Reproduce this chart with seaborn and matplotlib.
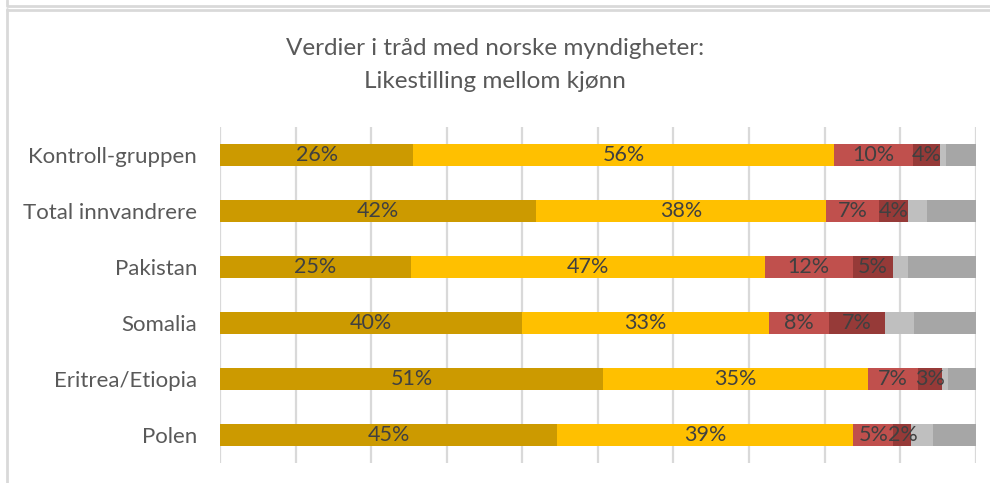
import matplotlib
matplotlib.use("Agg")
import matplotlib.pyplot as plt
import seaborn as sns
import numpy as np
import pandas as pd
from matplotlib.lines import Line2D

categories = ["Kontroll-gruppen", "Total innvandrere", "Pakistan", "Somalia", "Eritrea/Etiopia", "Polen"]
s1 = [25.6, 41.8, 25.3, 40.0, 50.7, 44.6]   # dark gold
s2 = [55.6, 38.4, 46.8, 32.6, 35.0, 39.2]   # yellow
s3 = [10.5, 7.0, 11.6, 8.0, 6.7, 5.3]       # red
s4 = [3.6, 3.9, 5.3, 7.4, 3.1, 2.4]         # dark red
s5 = [0.8, 2.5, 2.0, 3.8, 0.9, 2.8]         # light gray
s6 = [3.9, 6.4, 9.0, 8.2, 3.6, 5.7]         # gray
series = [s1, s2, s3, s4, s5, s6]
colors = ["#CC9A00", "#FFC000", "#C0504D", "#963A38", "#BFBFBF", "#A6A6A6"]
labeled = [True, True, True, True, False, False]
title = "Verdier i tråd med norske myndigheter:\nLikestilling mellom kjønn"

sns.set_theme(style="white")
plt.rcParams["font.family"] = ["Lato", "DejaVu Sans"]

fig = plt.figure(figsize=(9.9, 4.83), dpi=100)
ax = fig.add_axes([220/990, 1-463/483, 755.7/990, 336/483])

cum = np.cumsum(np.array(series), axis=0)
df = pd.DataFrame({"cat": categories})
for i in range(len(series)-1, -1, -1):
    df["v"] = cum[i]
    sns.barplot(data=df, x="v", y="cat", orient="h", color=colors[i],
                width=0.39, ax=ax, saturation=1, zorder=3, linewidth=0)

for i, s in enumerate(series):
    if not labeled[i]:
        continue
    for j, v in enumerate(s):
        center = cum[i][j] - v/2
        ax.text(center, j, f"{v:.0f}%", ha="center", va="center",
                fontsize=15.5, color="#404040", zorder=5)

ax.set_xlim(0, 100)
ax.set_ylim(5.5, -0.5)
ax.set_xticks(np.arange(0, 101, 10))
ax.set_xticklabels([])
ax.xaxis.grid(True, color="#D9D9D9", linewidth=1.6)
ax.set_axisbelow(True)
ax.tick_params(axis="both", length=0)
ax.tick_params(axis="y", pad=16.5, labelsize=16, labelcolor="#595959")
ax.set_xlabel("")
ax.set_ylabel("")
for sp in ax.spines.values():
    sp.set_visible(False)

fig.text(495/990, 1-65/483, title, ha="center", va="center", fontsize=17.5,
         color="#595959", linespacing=1.65)

# frame lines
c = "#D9D9D9"
fig.add_artist(Line2D([6.5/990, 6.5/990], [1, 1-5/483], color=c, lw=2, transform=fig.transFigure))
fig.add_artist(Line2D([6.5/990, 1], [1-5.5/483, 1-5.5/483], color=c, lw=2, transform=fig.transFigure))
fig.add_artist(Line2D([6.5/990, 6.5/990], [1-9/483, 0], color=c, lw=2, transform=fig.transFigure))
fig.add_artist(Line2D([6.5/990, 1], [1-9.5/483, 1-9.5/483], color=c, lw=2, transform=fig.transFigure))

fig.savefig("out.png", dpi=100)
